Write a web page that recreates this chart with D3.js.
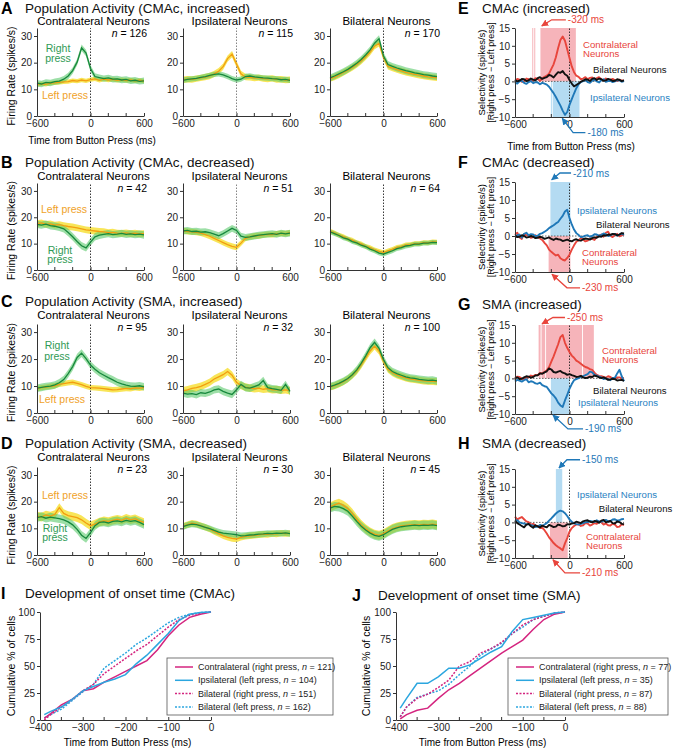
<!DOCTYPE html>
<html>
<head>
<meta charset="utf-8">
<script src="https://cdn.jsdelivr.net/npm/d3@7"></script>
<style>
  body { margin: 0; background: #fff; }
  svg { font-family: "Liberation Sans", Arial, Helvetica, sans-serif; }
</style>
</head>
<body>
<svg id="fig" width="674" height="748"></svg>
<script>
// ---- data: population activity (spikes/s), 50 ms bins ----
const timeMs = [-600,-550,-500,-450,-400,-350,-300,-250,-200,-150,-100,-50,0,50,100,150,200,250,300,350,400,450,500,550,600];

const A_contraRight = [12.3,12.0,12.6,12.4,12.9,13.1,13.8,15.0,17.0,20.2,25.6,23.6,17.8,14.8,14.4,14.0,14.3,13.8,13.9,13.5,13.7,13.2,13.4,13.0,13.2];
const A_contraLeft  = [11.8,12.1,11.9,12.3,12.4,12.6,12.8,12.9,13.3,13.1,13.5,13.2,13.6,13.9,13.4,13.8,13.5,13.7,13.4,13.6,13.3,13.5,13.2,13.4,13.1];
const A_ipsiRight   = [13.4,13.7,13.9,14.1,14.5,14.8,15.2,15.6,15.8,15.4,14.8,14.0,13.5,13.8,14.8,15.0,14.7,14.5,14.3,14.2,14.0,13.9,13.6,13.7,13.4];
const A_ipsiLeft    = [13.6,13.8,13.7,14.0,14.3,14.6,15.0,15.8,16.8,18.5,21.5,23.2,19.5,15.8,14.6,14.5,14.2,14.4,14.0,13.9,14.1,13.7,13.8,13.5,13.6];
const A_biRight     = [14.3,15.0,15.8,16.6,17.5,18.6,19.8,21.2,22.9,24.8,27.3,29.0,22.5,19.3,18.6,18.0,17.5,17.0,16.6,16.2,15.9,15.5,15.3,15.0,14.8];
const A_biLeft      = [14.0,14.6,15.4,16.3,17.2,18.2,19.3,20.6,22.2,24.0,26.2,27.3,22.0,18.6,18.0,17.4,16.9,16.4,16.0,15.6,15.3,15.0,14.7,14.5,14.3];

const B_contraRight = [17.3,17.0,17.4,16.8,16.6,16.2,15.6,14.2,12.6,10.8,9.2,8.4,10.6,12.6,13.2,13.5,13.8,13.4,13.6,13.9,13.5,13.7,13.4,13.6,13.3];
const B_contraLeft  = [17.6,17.9,17.3,17.5,17.0,17.2,16.8,16.5,16.3,16.0,15.6,15.2,15.0,14.8,14.6,14.5,14.2,14.3,14.0,13.9,14.1,13.8,14.0,13.7,13.8];
const B_ipsiRight   = [14.8,15.0,14.6,14.7,14.4,14.5,14.2,13.6,13.0,13.8,14.8,15.8,15.0,12.8,12.4,12.6,12.9,13.2,13.4,13.6,13.8,13.5,14.0,13.7,14.0];
const B_ipsiLeft    = [14.9,14.6,14.5,14.3,14.0,13.4,12.8,12.0,11.2,10.4,9.6,9.0,8.6,10.2,12.0,12.6,12.9,13.0,13.3,13.5,13.4,13.7,13.9,13.8,14.1];
const B_biRight     = [14.5,13.8,13.1,12.2,11.7,10.8,10.3,9.4,8.9,7.9,7.3,6.4,6.0,6.7,7.3,8.1,8.5,9.1,9.3,9.8,9.8,10.2,10.2,10.5,10.4];
const B_biLeft      = [14.7,14.1,13.2,12.7,11.8,11.3,10.4,9.9,9.0,8.5,7.6,7.1,6.6,7.3,7.8,8.6,8.9,9.5,9.6,10.0,10.0,10.4,10.3,10.7,10.6];

const C_contraRight = [9.2,9.5,9.8,10.0,10.4,11.2,12.4,14.6,17.2,20.6,22.2,20.2,17.8,16.2,14.9,14.0,13.1,12.3,11.4,10.8,10.3,10.0,9.9,10.1,9.7];
const C_contraLeft  = [9.0,9.4,9.6,9.9,10.1,10.6,10.9,11.2,11.4,11.0,10.5,9.9,9.4,9.3,9.2,9.0,8.8,8.6,8.7,8.9,9.1,9.0,9.3,9.2,9.4];
const C_ipsiRight   = [7.4,7.0,7.2,6.8,7.5,7.3,7.8,8.6,8.9,8.0,7.4,6.9,8.6,10.6,9.4,9.2,9.8,10.4,12.0,9.4,9.0,8.8,8.4,10.6,8.0];
const C_ipsiLeft    = [8.2,8.6,9.1,9.4,9.9,10.6,11.4,12.6,13.4,14.2,15.4,14.0,11.4,10.2,9.6,9.3,9.0,9.2,8.8,9.0,8.6,8.7,8.4,8.6,8.3];
const C_biRight     = [9.8,10.3,11.0,11.8,12.8,14.2,16.0,18.4,21.2,24.2,26.2,24.0,19.8,16.8,15.4,14.6,14.0,13.4,13.0,12.8,12.5,12.3,12.1,12.2,11.9];
const C_biLeft      = [9.6,10.1,10.8,11.6,12.6,14.0,15.6,17.8,20.4,23.0,24.8,23.0,19.2,16.2,14.9,14.1,13.5,13.0,12.6,12.4,12.1,11.9,11.8,11.7,11.6];

const D_contraRight = [14.0,14.4,13.8,14.2,13.9,13.6,13.2,12.4,11.3,9.6,7.4,6.2,8.4,11.0,12.2,12.4,12.0,12.6,12.8,12.4,13.0,12.6,12.9,12.2,11.4];
const D_contraLeft  = [14.6,14.2,15.0,14.6,15.2,17.8,15.6,14.8,14.4,14.0,13.2,12.0,11.0,11.6,12.4,12.8,12.6,13.0,13.4,13.0,13.8,13.2,13.6,12.8,12.2];
const D_ipsiRight   = [10.6,11.2,11.6,11.4,10.9,10.4,9.9,9.2,8.6,8.2,8.0,7.8,7.6,7.2,7.3,7.5,7.6,7.8,7.9,8.1,8.0,8.2,8.1,8.3,8.0];
const D_ipsiLeft    = [10.8,11.4,11.9,11.6,11.0,10.4,9.7,8.8,8.0,7.2,6.6,6.2,6.0,6.6,7.0,7.2,7.4,7.6,7.8,7.7,8.0,7.9,8.2,8.0,8.1];
const D_biRight     = [17.6,18.2,18.0,17.4,16.4,14.6,12.6,10.8,9.4,8.2,7.4,7.0,7.6,8.6,9.6,10.2,10.6,10.8,11.0,11.2,11.0,11.2,11.1,11.3,11.0];
const D_biLeft      = [18.0,18.8,19.4,18.6,17.4,15.6,13.4,11.4,9.8,8.6,7.8,7.4,8.0,9.0,9.9,10.5,10.9,11.1,11.3,11.4,11.3,11.5,11.4,11.6,11.3];

// s.e.m. per trace [right, left]
const popSem = [
  [[1.2, 0.8], [1.0, 1.2], [1.3, 1.2]],
  [[1.4, 1.3], [1.3, 1.1], [0.9, 0.9]],
  [[1.4, 1.0], [1.4, 1.4], [1.4, 1.3]],
  [[1.6, 1.6], [1.2, 1.2], [1.7, 1.7]]
];
const popLetters = ['A', 'B', 'C', 'D'];
const popTitles = ['Population Activity (CMAc, increased)', 'Population Activity (CMAc, decreased)',
                   'Population Activity (SMA, increased)', 'Population Activity (SMA, decreased)'];
const popSubtitles = ['Contralateral Neurons', 'Ipsilateral Neurons', 'Bilateral Neurons'];
const popN = [[126, 115, 170], [42, 51, 64], [95, 32, 100], [23, 30, 45]];
const popYTicks = [0, 10, 20, 30];
const timeTicks = [-600, -400, -200, 0, 200, 400, 600];
const timeLabels = [-600, 0, 600];

// ---- data: selectivity (right - left, spikes/s), 25 ms bins ----
const selTimeMs = [-600,-575,-550,-525,-500,-475,-450,-425,-400,-375,-350,-325,-300,-275,-250,-225,-200,-175,-150,-125,-100,-75,-50,-25,
                   0,25,50,75,100,125,150,175,200,225,250,275,300,325,350,375,400,425,450,475,500,525,550,575,600];

const E_contra = [0.2,0.7,0.5,-0.1,0.1,0.8,0.6,0.1,0.3,0.9,0.7,0.2,0.8,1.3,1.6,2.2,3.5,4.8,6.8,9.4,11.6,12.6,11.4,9.0,
                  6.6,4.2,2.6,1.6,1.3,0.6,0.8,1.2,0.6,1.0,1.1,0.5,0.9,1.2,0.6,0.3,0.8,0.2,0.4,0.7,0.3,0.1,0.5,0.2,0.3];
const E_ipsi   = [-0.3,-0.6,0.0,0.2,-0.4,-0.7,-0.2,0.1,-0.5,-0.2,-0.3,-0.8,-0.4,-0.6,-0.9,-1.5,-2.4,-3.3,-4.4,-5.6,-6.8,-8.2,-9.4,-8.6,
                  -6.6,-5.0,-3.4,-1.9,-0.8,-0.2,0.1,0.4,-0.2,-0.4,0.2,0.5,0.0,-0.3,0.3,0.6,-0.1,0.1,0.2,-0.2,0.0,0.4,0.3,-0.1,0.1];
const E_bi     = [0.4,0.0,0.2,0.7,0.6,0.1,0.3,0.8,0.5,0.3,0.9,1.2,0.7,1.0,1.2,1.8,1.6,1.1,1.9,2.6,2.4,2.9,2.0,1.6,
                  0.4,-0.6,-1.4,-1.0,-0.6,-0.1,0.2,0.6,0.5,0.1,0.7,0.9,0.4,0.8,0.6,0.2,0.3,0.7,0.5,0.1,0.2,0.6,0.4,0.1,0.3];

const F_contra = [0.3,0.9,-0.4,-0.8,0.5,0.2,0.1,-0.5,-0.3,0.2,-0.2,-0.7,-1.1,-1.9,-2.6,-3.8,-4.4,-4.9,-5.4,-5.2,-6.2,-6.6,-6.8,-6.1,
                  -5.2,-3.8,-2.6,-1.6,-1.2,-0.6,-1.0,-1.5,-1.3,-0.7,-0.8,-1.1,-0.2,0.1,0.4,-0.2,0.9,1.2,0.1,-0.3,0.3,0.6,-0.1,0.2,0.4];
const F_ipsi   = [-0.3,0.2,0.4,-0.5,0.6,0.9,0.2,0.5,0.4,-0.1,0.1,0.6,0.8,1.2,1.6,2.2,2.6,3.0,3.5,3.9,4.8,5.6,6.8,7.3,
                  5.0,3.2,1.8,0.8,0.3,-0.3,-0.2,0.1,0.2,-0.2,0.0,0.5,0.4,0.1,0.3,0.7,0.5,0.0,0.2,0.5,0.6,0.1,0.4,0.7,0.3];
const F_bi     = [0.1,-0.3,-0.2,0.2,0.0,-0.4,-0.3,0.0,-0.2,-0.6,-0.5,-0.2,-0.4,-0.8,-0.6,-0.4,-0.8,-1.1,-0.7,-0.9,-1.0,-1.4,-1.2,-1.0,
                  -1.3,-1.5,-1.1,-0.9,-1.2,-1.3,-0.9,-0.7,-0.8,-1.0,-0.6,-0.4,-0.5,-0.1,-0.2,0.2,0.1,0.4,0.3,0.6,0.5,0.2,0.4,0.8,0.7];

const G_contra = [0.0,0.5,0.4,-0.1,-0.2,0.4,0.3,0.8,0.6,1.0,0.9,1.5,1.4,1.8,2.3,3.2,4.7,6.2,7.9,9.6,11.6,12.2,10.0,8.6,
                  7.4,6.4,5.8,5.0,4.6,4.1,3.6,3.2,3.0,2.6,2.4,1.6,1.0,0.7,0.6,0.4,0.2,0.6,0.4,0.0,-0.1,0.3,0.3,0.0,0.1];
const G_ipsi   = [-0.9,-0.4,-0.6,-0.9,-0.5,-0.2,-1.1,-0.8,-1.0,-1.4,-1.5,-1.2,-1.9,-2.2,-2.4,-3.3,-4.2,-4.8,-5.6,-6.8,-7.6,-8.0,-6.2,-4.6,
                  -2.9,-1.6,-0.5,-0.2,0.1,0.4,0.6,0.9,1.2,1.9,1.7,1.0,0.8,0.5,0.3,-0.2,0.0,-0.3,-0.5,0.1,0.2,1.4,2.4,0.6,-0.8];
const G_bi     = [0.1,0.3,-0.2,-0.1,0.3,0.6,0.5,0.2,0.4,0.8,0.9,1.4,1.3,1.7,2.0,2.8,2.5,1.8,1.6,1.9,2.1,1.6,1.4,1.0,
                  1.2,0.9,0.7,0.4,0.5,0.7,0.3,0.1,0.2,0.5,0.4,0.8,0.6,0.3,0.1,0.3,0.0,-0.4,-0.3,-0.1,-0.2,-0.6,-0.5,-0.4,-0.7];

const H_contra = [1.6,0.8,1.2,1.5,0.9,0.3,0.1,-0.6,-0.4,-0.9,-1.0,-1.6,-1.5,-2.2,-3.1,-4.2,-5.0,-5.8,-6.4,-6.9,-7.3,-7.8,-5.9,-4.4,
                  -2.6,-1.6,-1.0,-0.6,-0.5,-1.0,-0.8,-0.2,-0.3,-0.9,-0.6,-0.2,-0.4,0.2,0.0,-0.6,-0.3,-0.8,-0.9,-0.4,-0.6,-1.3,-1.2,-0.5,-0.8];
const H_ipsi   = [0.4,0.6,0.0,-0.2,-0.3,-0.6,-0.5,-0.8,-0.9,-1.3,-1.2,-0.7,-1.0,-0.6,-0.2,0.5,1.1,1.8,2.5,3.0,3.3,3.1,2.6,1.8,
                  0.8,0.2,-0.3,-0.5,-0.6,-0.4,-0.2,0.0,0.1,0.4,0.3,0.1,0.6,0.3,0.2,0.5,0.7,0.3,0.4,0.8,0.9,0.5,0.6,0.9,1.0];
const H_bi     = [0.5,-0.2,-0.6,-1.0,-1.4,-0.6,-0.4,-1.1,-1.5,-0.8,-1.1,-1.4,-0.9,-1.2,-1.4,-0.7,-1.0,-1.3,-1.2,-0.6,-0.8,-1.1,-1.0,-0.5,
                  -0.6,-0.3,-0.2,0.2,0.0,-0.2,0.3,0.5,0.6,0.2,0.0,0.4,0.3,-0.1,0.5,0.7,0.0,0.2,0.4,-0.2,-0.3,0.3,0.1,-0.4,-0.5];

// significant selectivity periods (ms)
const E_contraShade = [[-410, -404], [-388, -382], [-320, 70]];
const E_ipsiShade   = [[-205, -196], [-185, 110]];
const F_contraShade = [[-230, 10]];
const F_ipsiShade   = [[-210, 10]];
const G_contraShade = [[-340, -318], [-308, -268], [-258, 138], [148, 268]];
const G_ipsiShade   = [[-205, 0]];
const H_contraShade = [[-215, -20]];
const H_ipsiShade   = [[-150, -80]];

const selLetters = ['E', 'F', 'G', 'H'];
const selTitles = ['CMAc (increased)', 'CMAc (decreased)', 'SMA (increased)', 'SMA (decreased)'];
const selOnsetLabels = [['-320 ms', '-180 ms'], ['-230 ms', '-210 ms'], ['-250 ms', '-190 ms'], ['-210 ms', '-150 ms']];
const selYTicks = [-10, -5, 0, 5, 10, 15];

// ---- data: cumulative onset time (%) ----
const onsetMs = [-390,-375,-350,-325,-300,-275,-250,-225,-200,-175,-150,-125,-100,-75,-50,-25,0];
const I_contra  = [1.5,6,14,19,27,29,35,40,45,50,55,65,78,88,95,98,100];
const I_ipsi    = [5,8,12,19,27,31,35,38,42,52,60,70,80,92,98,99.5,100];
const I_biRight = [0,5,12,19,27,33,43,50,57,64,70,78,86,93,97,99,100];
const I_biLeft  = [2,5,10,18,26,33,48,55,62,70,76,83,90,95,98,99.5,100];
const J_contra  = [1,5,9,11,20,28,34,41,48,55,62,68,74,84,93,98,100];
const J_ipsi    = [11,20,34,34,40,48,48,51,57,63,68,82,93,95,97,99,100];
const J_biRight = [3,12,20,24,30,37,50,54,62,66,72,80,88,93,96,99,100];
const J_biLeft  = [3,12,21,24,27,33,42,50,60,66,71,80,86,93,96,99,100];
const onsetN = [[121, 104, 151, 162], [77, 35, 87, 88]];
const onsetTitles = ['Development of onset time (CMAc)', 'Development of onset time (SMA)'];
const onsetXTicks = [-400,-350,-300,-250,-200,-150,-100,-50,0];
const onsetXLabels = [-400, -300, -200, -100, 0];
const onsetYTicks = [0, 25, 50, 75, 100];

// ---- styles ----
const GREEN = '#17883d', GREEN_BAND = '#5cc96c', ORANGE = '#f29e10', YELLOW_BAND = '#f6df2e';
const GREEN_TXT = '#2f9a55', ORANGE_TXT = '#f0a22a';
const RED = '#e8453c', RED_SHADE = '#f6b4ba', BLUE = '#1f78b8', BLUE_SHADE = '#b4dbf2', BLUE_TXT = '#2a82c2';
const MAGENTA = '#d4247f', CYAN = '#2ba6df';
const AXIS = '#333';

const svg = d3.select('#fig');
const fmt = d3.format('');

const defs = svg.append('defs');
[['red', RED], ['blue', BLUE]].forEach(([k, c]) => {
    defs.append('marker')
        .attr('id', 'arr-' + k)
        .attr('viewBox', '0 0 10 10')
        .attr('refX', 9).attr('refY', 5)
        .attr('markerWidth', 7).attr('markerHeight', 7)
        .attr('markerUnits', 'userSpaceOnUse')
        .attr('orient', 'auto')
        .append('path').attr('d', 'M0,0L10,5L0,10z').attr('fill', c);
});

function styleAxis(g) {
    g.attr('font-size', 10).attr('font-family', null);
    g.selectAll('path.domain').attr('stroke', AXIS);
    g.selectAll('.tick line').attr('stroke', AXIS);
    g.selectAll('.tick text').attr('fill', '#222');
}

function panelTitle(letterX, textX, y, letter, text) {
    svg.append('text').attr('x', letterX).attr('y', y).attr('dominant-baseline', 'central')
        .attr('font-size', 16).attr('font-weight', 'bold').text(letter);
    svg.append('text').attr('x', textX).attr('y', y).attr('dominant-baseline', 'central')
        .attr('font-size', 13.5).attr('fill', '#111').text(text);
}

// labelled ticks from the axis, unlabelled (minor) ticks drawn as short lines
function xAxis(g, x, y, ticks, labels) {
    g.append('g').attr('transform', `translate(0,${y})`)
        .call(d3.axisBottom(x).tickValues(labels).tickSizeInner(-3).tickSizeOuter(0).tickPadding(4).tickFormat(fmt))
        .call(styleAxis);
    g.selectAll(null).data(ticks.filter(t => !labels.includes(t))).join('line')
        .attr('x1', d => x(d)).attr('x2', d => x(d)).attr('y1', y).attr('y2', y - 3)
        .attr('stroke', AXIS);
}

function yAxis(g, y, x, ticks) {
    g.append('g').attr('transform', `translate(${x},0)`)
        .call(d3.axisLeft(y).tickValues(ticks).tickSize(3).tickSizeOuter(0).tickPadding(2))
        .call(styleAxis);
}

// ---- A-D population activity ----
const popRight = [
    [A_contraRight, A_ipsiRight, A_biRight], [B_contraRight, B_ipsiRight, B_biRight],
    [C_contraRight, C_ipsiRight, C_biRight], [D_contraRight, D_ipsiRight, D_biRight]];
const popLeft = [
    [A_contraLeft, A_ipsiLeft, A_biLeft], [B_contraLeft, B_ipsiLeft, B_biLeft],
    [C_contraLeft, C_ipsiLeft, C_biLeft], [D_contraLeft, D_ipsiLeft, D_biLeft]];

const popRows = [
    { title: 8,   sub: 21,  n: 33,  top: 28,  y0: 116 },
    { title: 162, sub: 176, n: 188, top: 183, y0: 270 },
    { title: 301, sub: 315, n: 327, top: 324, y0: 413 },
    { title: 443, sub: 457, n: 469, top: 467, y0: 555 }
];
const popColX = [37, 183, 330];
const popW = 107;
// press label anchors (ms, spikes/s) in first column
const pressLabels = [
    { right: [-364, 25.5, 21.7], left: [-286, 7.9] },
    { right: [-342, 7.6, 4.2],   left: [-297, 23.2] },
    { right: [-376, 25.1, 21.0], left: [-320, 5.2] },
    { right: [-398, 10.0, 6.6],  left: [-286, 22.4] }
];

popRows.forEach((row, r) => {
    panelTitle(1, 25, row.title, popLetters[r], popTitles[r]);
    svg.append('text')
        .attr('transform', `translate(11,${(row.top + row.y0) / 2 + 4}) rotate(-90)`)
        .attr('text-anchor', 'middle').attr('dominant-baseline', 'central')
        .attr('font-size', 10.5).text('Firing Rate (spikes/s)');

    popColX.forEach((x0, c) => {
        const g = svg.append('g');
        const x = d3.scaleLinear().domain([-600, 600]).range([x0, x0 + popW]);
        const y = d3.scaleLinear().domain([0, 33]).range([row.y0, row.top]);
        const right = popRight[r][c], left = popLeft[r][c];
        const [semR, semL] = popSem[r][c];
        const band = s => d3.area().x((d, i) => x(timeMs[i])).y0(d => y(d - s)).y1(d => y(d + s));
        const line = d3.line().x((d, i) => x(timeMs[i])).y(d => y(d));

        g.append('path').datum(left).attr('d', band(semL)).attr('fill', YELLOW_BAND).attr('opacity', 0.8);
        g.append('path').datum(right).attr('d', band(semR)).attr('fill', GREEN_BAND).attr('opacity', 0.6);
        g.append('line')
            .attr('x1', x(0)).attr('x2', x(0)).attr('y1', y(0)).attr('y2', y(33))
            .attr('stroke', c === 1 ? '#777' : '#222').attr('stroke-width', 0.9).attr('stroke-dasharray', '1.5,1.5');
        g.append('path').datum(left).attr('d', line).attr('fill', 'none').attr('stroke', ORANGE).attr('stroke-width', 1.3);
        g.append('path').datum(right).attr('d', line).attr('fill', 'none').attr('stroke', GREEN).attr('stroke-width', 1.3);

        xAxis(g, x, row.y0, timeTicks, timeLabels);
        yAxis(g, y, x0, popYTicks);

        g.append('text').attr('x', x0 + popW / 2 + 3).attr('y', row.sub).attr('text-anchor', 'middle')
            .attr('dominant-baseline', 'central').attr('font-size', 11.5).text(popSubtitles[c]);
        const nt = g.append('text').attr('x', x0 + popW + 3).attr('y', row.n).attr('text-anchor', 'end')
            .attr('dominant-baseline', 'central').attr('font-size', 10.5);
        nt.append('tspan').attr('font-style', 'italic').text('n');
        nt.append('tspan').text(' = ' + popN[r][c]);

        if (c === 0) {
            const pl = pressLabels[r];
            g.append('text').attr('x', x(pl.right[0])).attr('y', y(pl.right[1])).attr('text-anchor', 'middle')
                .attr('dominant-baseline', 'central').attr('font-size', 10.5).attr('fill', GREEN_TXT).text('Right');
            g.append('text').attr('x', x(pl.right[0])).attr('y', y(pl.right[2])).attr('text-anchor', 'middle')
                .attr('dominant-baseline', 'central').attr('font-size', 10.5).attr('fill', GREEN_TXT).text('press');
            g.append('text').attr('x', x(pl.left[0])).attr('y', y(pl.left[1])).attr('text-anchor', 'middle')
                .attr('dominant-baseline', 'central').attr('font-size', 10.5).attr('fill', ORANGE_TXT).text('Left press');
        }
    });
});
svg.append('text').attr('x', 92).attr('y', 140).attr('text-anchor', 'middle').attr('dominant-baseline', 'central')
    .attr('font-size', 10).text('Time from Button Press (ms)');

// ---- E-H selectivity ----
const selData = [
    { contra: E_contra, ipsi: E_ipsi, bi: E_bi, contraShade: E_contraShade, ipsiShade: E_ipsiShade, contraUp: true },
    { contra: F_contra, ipsi: F_ipsi, bi: F_bi, contraShade: F_contraShade, ipsiShade: F_ipsiShade, contraUp: false },
    { contra: G_contra, ipsi: G_ipsi, bi: G_bi, contraShade: G_contraShade, ipsiShade: G_ipsiShade, contraUp: true },
    { contra: H_contra, ipsi: H_ipsi, bi: H_bi, contraShade: H_contraShade, ipsiShade: H_ipsiShade, contraUp: false }
];
const selRows = [
    { title: 8,   top: 28,  bottom: 117 },
    { title: 162, top: 182, bottom: 272 },
    { title: 304, top: 325, bottom: 414 },
    { title: 443, top: 469, bottom: 558 }
];
const selX0 = 515, selW = 109;
// label and arrow anchors (ms, spikes/s)
const selLayout = [
    { contraLbl: [149, 10.4, 7.9], biLbl: [259, 3.4], ipsiLbl: [226, -4.5],
      contraArrow: [[-305, 15.6], [-196, 17.3], [-40, 17.3]], ipsiArrow: [[-80, -10.4], [40, -14.4], [175, -14.4]] },
    { contraLbl: [138, -4.7, -7.2], biLbl: [292, 3.1], ipsiLbl: [83, 7.2],
      contraArrow: [[-193, -10.6], [-28, -14.4], [116, -14.4]], ipsiArrow: [[-196, 15.6], [-105, 17.5], [17, 17.5]] },
    { contraLbl: [358, 7.7, 5.2], biLbl: [259, -3.3], ipsiLbl: [94, -6.9],
      contraArrow: [[-303, 15.3], [-182, 17.1], [-50, 17.1]], ipsiArrow: [[-182, -10.3], [-17, -14.2], [149, -14.2]] },
    { contraLbl: [182, -4.1, -6.6], biLbl: [322, 3.8], ipsiLbl: [83, 7.7],
      contraArrow: [[-182, -10.5], [-50, -14.2], [116, -14.2]], ipsiArrow: [[-116, 15.3], [-28, 17.6], [116, 17.6]] }
];

selRows.forEach((row, r) => {
    const d = selData[r], L = selLayout[r];
    panelTitle(458, 482, row.title, selLetters[r], selTitles[r]);
    const g = svg.append('g');
    const x = d3.scaleLinear().domain([-600, 600]).range([selX0, selX0 + selW]);
    const y = d3.scaleLinear().domain([-10, 15]).range([row.bottom, row.top]);

    const shade = (intervals, up, color) => intervals.forEach(([a, b]) => {
        g.append('rect').attr('x', x(a)).attr('width', Math.max(1, x(b) - x(a)))
            .attr('y', up ? y(15) : y(0)).attr('height', up ? y(0) - y(15) : y(-10) - y(0))
            .attr('fill', color);
    });
    shade(d.contraShade, d.contraUp, RED_SHADE);
    shade(d.ipsiShade, !d.contraUp, BLUE_SHADE);

    g.append('line').attr('x1', x(0)).attr('x2', x(0)).attr('y1', y(-10)).attr('y2', y(15))
        .attr('stroke', '#222').attr('stroke-width', 0.9).attr('stroke-dasharray', '1.5,1.5');
    g.append('line').attr('x1', x(-600)).attr('x2', x(600)).attr('y1', y(0)).attr('y2', y(0))
        .attr('stroke', '#444').attr('stroke-width', 0.8).attr('stroke-dasharray', '1.5,1.5');

    const line = d3.line().x((v, i) => x(selTimeMs[i])).y(v => y(v));
    [[d.contra, RED], [d.ipsi, BLUE], [d.bi, '#111']].forEach(([vals, col]) => {
        g.append('path').datum(vals).attr('d', line).attr('fill', 'none')
            .attr('stroke', col).attr('stroke-width', 1.9).attr('stroke-linejoin', 'round');
    });

    xAxis(g, x, row.bottom, timeTicks, timeLabels);
    yAxis(g, y, selX0, selYTicks);

    const lbl = (pos, txt, col) => g.append('text').attr('x', x(pos[0])).attr('y', y(pos[1]))
        .attr('dominant-baseline', 'central').attr('font-size', 9.6).attr('fill', col).text(txt);
    lbl([L.contraLbl[0], L.contraLbl[1]], 'Contralateral', RED);
    lbl([L.contraLbl[0], L.contraLbl[2]], 'Neurons', RED);
    lbl(L.biLbl, 'Bilateral Neurons', '#111');
    lbl(L.ipsiLbl, 'Ipsilateral Neurons', BLUE_TXT);

    const arrow = (pts, col, key, txt) => {
        const p = pts.slice().reverse().map(([a, b]) => [x(a), y(b)]);
        g.append('path').attr('d', d3.line()(p)).attr('fill', 'none').attr('stroke', col)
            .attr('stroke-width', 1.3).attr('marker-end', `url(#arr-${key})`);
        const end = pts[2];
        g.append('text').attr('x', x(end[0]) + 2).attr('y', y(end[1])).attr('dominant-baseline', 'central')
            .attr('font-size', 10).attr('fill', col).text(txt);
    };
    arrow(L.contraArrow, RED, 'red', selOnsetLabels[r][0]);
    arrow(L.ipsiArrow, BLUE, 'blue', selOnsetLabels[r][1]);

    svg.append('text')
        .attr('transform', `translate(481,${(row.top + row.bottom) / 2}) rotate(-90)`)
        .attr('text-anchor', 'middle').attr('dominant-baseline', 'central').attr('font-size', 9.5)
        .text('Selectivity (spikes/s)');
    svg.append('text')
        .attr('transform', `translate(491,${(row.top + row.bottom) / 2}) rotate(-90)`)
        .attr('text-anchor', 'middle').attr('dominant-baseline', 'central').attr('font-size', 9)
        .text('[Right press \u2212 Left press]');
});
svg.append('text').attr('x', 571).attr('y', 146).attr('text-anchor', 'middle').attr('dominant-baseline', 'central')
    .attr('font-size', 10).text('Time from Button Press (ms)');

// ---- I-J onset development ----
const onsetSeries = [
    [I_contra, I_ipsi, I_biRight, I_biLeft],
    [J_contra, J_ipsi, J_biRight, J_biLeft]
];
const onsetStyles = [
    { color: MAGENTA, dash: null, name: 'Contralateral (right press, ' },
    { color: CYAN, dash: null, name: 'Ipsilateral (left press, ' },
    { color: MAGENTA, dash: '2,1.5', name: 'Bilateral (right press, ' },
    { color: CYAN, dash: '2,1.5', name: 'Bilateral (left press, ' }
];
const onsetPanels = [
    { letter: 'I', letterX: 1, textX: 25, title: 593, x0: 40, x1: 211, ylab: 11, legend: { x: 167, w: 166 } },
    { letter: 'J', letterX: 352, textX: 378, title: 595, x0: 396, x1: 565, ylab: 366, legend: { x: 508, w: 160 } }
];
const onsetY0 = 720, onsetY100 = 612;

onsetPanels.forEach((p, k) => {
    panelTitle(p.letterX, p.textX, p.title, p.letter, onsetTitles[k]);
    const g = svg.append('g');
    const x = d3.scaleLinear().domain([-400, 0]).range([p.x0, p.x1]);
    const y = d3.scaleLinear().domain([0, 100]).range([onsetY0, onsetY100]);
    const line = d3.line().x((v, i) => x(onsetMs[i])).y(v => y(v));

    [3, 2, 0, 1].forEach(s => {
        const st = onsetStyles[s];
        g.append('path').datum(onsetSeries[k][s]).attr('d', line).attr('fill', 'none')
            .attr('stroke', st.color).attr('stroke-width', 1.5).attr('stroke-dasharray', st.dash);
    });

    xAxis(g, x, onsetY0, onsetXTicks, onsetXLabels);
    yAxis(g, y, p.x0, onsetYTicks);

    svg.append('text').attr('transform', `translate(${p.ylab},666) rotate(-90)`)
        .attr('text-anchor', 'middle').attr('dominant-baseline', 'central').attr('font-size', 10.5)
        .text('Cumulative % of cells');
    svg.append('text').attr('x', (p.x0 + p.x1) / 2 + 2).attr('y', 742).attr('text-anchor', 'middle')
        .attr('dominant-baseline', 'central').attr('font-size', 10).text('Time from Button Press (ms)');

    const lg = svg.append('g');
    lg.append('rect').attr('x', p.legend.x).attr('y', 658).attr('width', p.legend.w).attr('height', 57)
        .attr('fill', '#fff').attr('stroke', '#555').attr('stroke-width', 0.8);
    onsetStyles.forEach((st, s) => {
        const yy = 667 + s * 13.3;
        lg.append('line').attr('x1', p.legend.x + 8).attr('x2', p.legend.x + 26).attr('y1', yy).attr('y2', yy)
            .attr('stroke', st.color).attr('stroke-width', 1.5).attr('stroke-dasharray', st.dash);
        const t = lg.append('text').attr('x', p.legend.x + 31).attr('y', yy).attr('dominant-baseline', 'central')
            .attr('font-size', 9).attr('fill', '#222');
        t.append('tspan').text(st.name);
        t.append('tspan').attr('font-style', 'italic').text('n');
        t.append('tspan').text(' = ' + onsetN[k][s] + ')');
    });
});
</script>
</body>
</html>
